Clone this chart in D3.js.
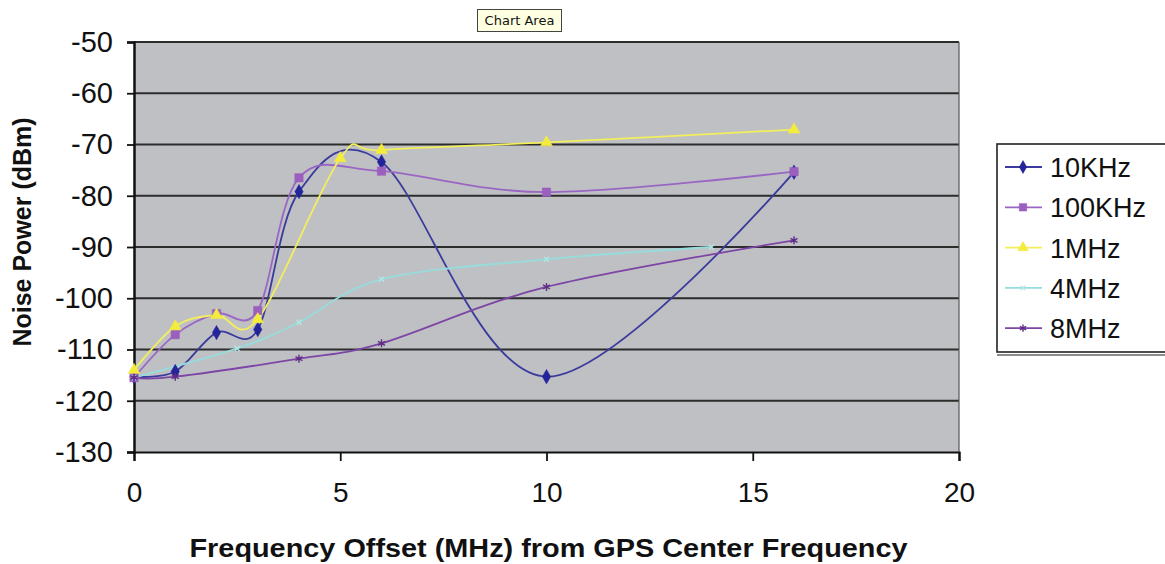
<!DOCTYPE html>
<html>
<head>
<meta charset="utf-8">
<script src="https://cdn.jsdelivr.net/npm/d3@7"></script>
<style>
  body { margin: 0; background: #fff; }
  svg { display: block; font-family: Arial, "Liberation Sans", sans-serif; }
</style>
</head>
<body>
<svg id="chart" width="1165" height="564"></svg>
<script>
// DATA //
const seriesNames = ['10KHz', '100KHz', '1MHz', '4MHz', '8MHz']

const x10k = [0, 1, 2, 3, 4, 6, 10, 16]
const y10k = [-115.3, -114.3, -106.7, -106.1, -79.2, -73.4, -115.3, -75.4]

const x100k = [0, 1, 2, 3, 4, 6, 10, 16]
const y100k = [-115.5, -107.1, -103, -102.4, -76.5, -75.2, -79.3, -75.3]

const x1m = [0, 1, 2, 3, 5, 6, 10, 16]
const y1m = [-114, -105.5, -103.3, -104.1, -72.7, -71.1, -69.6, -67.1]

const x4m = [0, 2.5, 4, 6, 10, 14]
const y4m = [-115.5, -109.8, -104.7, -96.3, -92.4, -90]

const x8m = [0, 1, 4, 6, 10, 16]
const y8m = [-115.5, -115.3, -111.8, -108.8, -97.8, -88.7]

const xTicks = [0, 5, 10, 15, 20]
const yTicks = [-130, -120, -110, -100, -90, -80, -70, -60, -50]

// CHART //
const svg = d3.select('#chart')
const plotLeft = 134, plotRight = 959, plotTop = 42, plotBottom = 452

const x = d3.scaleLinear().domain([0, 20]).range([plotLeft, plotRight])
const y = d3.scaleLinear().domain([-130, -50]).range([plotBottom, plotTop])

const series = [
  {name: seriesNames[0], xs: x10k, ys: y10k, color: '#3b3b9c', mcolor: '#23239a', marker: 'diamond', size: 60},
  {name: seriesNames[1], xs: x100k, ys: y100k, color: '#9a66c4', mcolor: '#9b5fbd', marker: 'square', size: 70},
  {name: seriesNames[2], xs: x1m, ys: y1m, color: '#f2ee5c', mcolor: '#f4ec3c', marker: 'triangle', size: 60},
  {name: seriesNames[3], xs: x4m, ys: y4m, color: '#97dcdc', mcolor: '#b4e6e6', marker: 'cross', size: 18},
  {name: seriesNames[4], xs: x8m, ys: y8m, color: '#7d45a6', mcolor: '#5e2c84', marker: 'star', size: 45}
]

// plot background
svg.append('rect')
  .attr('x', plotLeft).attr('y', plotTop)
  .attr('width', plotRight - plotLeft).attr('height', plotBottom - plotTop)
  .attr('fill', '#bfc0c4')

// gridlines
svg.append('g')
  .selectAll('line')
  .data(yTicks.filter(d => d > -130))
  .enter()
  .append('line')
  .attr('x1', plotLeft).attr('x2', plotRight)
  .attr('y1', d => y(d)).attr('y2', d => y(d))
  .attr('stroke', '#2c2c2c').attr('stroke-width', 1.8)

// right border
svg.append('line')
  .attr('x1', plotRight).attr('x2', plotRight).attr('y1', plotTop).attr('y2', plotBottom)
  .attr('stroke', '#555').attr('stroke-width', 1.2)

// y axis
const yAxis = svg.append('g')
  .attr('transform', `translate(${plotLeft},0)`)
  .call(d3.axisLeft(y).tickValues(yTicks).tickFormat(d => String(d)).tickSize(7).tickPadding(14))
yAxis.select('.domain').attr('stroke', '#111').attr('stroke-width', 2.5)
yAxis.selectAll('.tick line').attr('stroke', '#111').attr('stroke-width', 1.8)
yAxis.selectAll('text').attr('font-size', 29).attr('fill', '#111')
  .attr('font-family', 'Arial, "Liberation Sans", sans-serif')

// x axis
const xAxis = svg.append('g')
  .attr('transform', `translate(0,${plotBottom})`)
  .call(d3.axisBottom(x).tickValues(xTicks).tickFormat(d => String(d)).tickSize(9).tickPadding(21))
xAxis.select('.domain').attr('stroke', '#111').attr('stroke-width', 2.2)
xAxis.selectAll('.tick line').attr('stroke', '#111').attr('stroke-width', 1.8)
xAxis.selectAll('text').attr('font-size', 28).attr('fill', '#111')
  .attr('font-family', 'Arial, "Liberation Sans", sans-serif')

// lines - smoothed like the spreadsheet's "smoothed line" option
const line = d3.line()
  .x(d => x(d[0]))
  .y(d => y(d[1]))
  .curve(d3.curveCardinal.tension(0))

function markerPath(type, size) {
  if (type === 'diamond') return d3.symbol(d3.symbolDiamond, size)()
  if (type === 'square') return d3.symbol(d3.symbolSquare, size)()
  if (type === 'triangle') return d3.symbol(d3.symbolTriangle, size)()
  if (type === 'cross') return d3.symbol(d3.symbolX, size)()
  return d3.symbol(d3.symbolAsterisk, size)()
}

function drawMarker(g, s, px, py, size) {
  const strokeOnly = s.marker === 'cross' || s.marker === 'star'
  g.append('path')
    .attr('d', markerPath(s.marker, size))
    .attr('transform', `translate(${px},${py})`)
    .attr('fill', strokeOnly ? 'none' : s.mcolor)
    .attr('stroke', s.mcolor)
    .attr('stroke-width', strokeOnly ? 1.4 : 0.5)
}

const plot = svg.append('g')
series.forEach(s => {
  const pts = s.xs.map((v, i) => [v, s.ys[i]])
  plot.append('path')
    .datum(pts)
    .attr('d', line)
    .attr('fill', 'none')
    .attr('stroke', s.color)
    .attr('stroke-width', 1.8)
})
series.forEach(s => {
  s.xs.forEach((v, i) => drawMarker(plot, s, x(v), y(s.ys[i]), s.size))
})

// axis titles
svg.append('text')
  .attr('x', (plotLeft + plotRight) / 2 + 2).attr('y', 557)
  .attr('text-anchor', 'middle')
  .attr('font-size', 25).attr('font-weight', 'bold').attr('fill', '#111')
  .attr('textLength', 718).attr('lengthAdjust', 'spacingAndGlyphs')
  .text('Frequency Offset (MHz) from GPS Center Frequency')

svg.append('text')
  .attr('transform', 'translate(31,232) rotate(-90)')
  .attr('text-anchor', 'middle')
  .attr('font-size', 25).attr('font-weight', 'bold').attr('fill', '#111')
  .text('Noise Power (dBm)')

// legend
const legend = svg.append('g')
legend.append('rect')
  .attr('x', 997).attr('y', 144).attr('width', 180).attr('height', 208)
  .attr('fill', '#fff').attr('stroke', '#222').attr('stroke-width', 1.6)
legend.append('line')
  .attr('x1', 997).attr('x2', 1165).attr('y1', 355).attr('y2', 355)
  .attr('stroke', '#666').attr('stroke-width', 1.5)

series.forEach((s, i) => {
  const ly = 167 + i * 40.3
  legend.append('line')
    .attr('x1', 1005).attr('x2', 1042).attr('y1', ly).attr('y2', ly)
    .attr('stroke', s.color).attr('stroke-width', 1.8)
  drawMarker(legend, s, 1023, ly, s.size * 0.8)
  legend.append('text')
    .attr('x', 1050).attr('y', ly + 10)
    .attr('font-size', 27).attr('fill', '#111')
    .text(s.name)
})

// "Chart Area" tooltip
const tip = svg.append('g')
tip.append('rect')
  .attr('x', 477.5).attr('y', 9.5).attr('width', 84).attr('height', 22)
  .attr('fill', '#ffffe1').attr('stroke', '#444')
tip.append('text')
  .attr('x', 519.5).attr('y', 25)
  .attr('text-anchor', 'middle')
  .attr('font-size', 13).attr('fill', '#111')
  .attr('font-family', '"DejaVu Sans", sans-serif')
  .text('Chart Area')
</script>
</body>
</html>
